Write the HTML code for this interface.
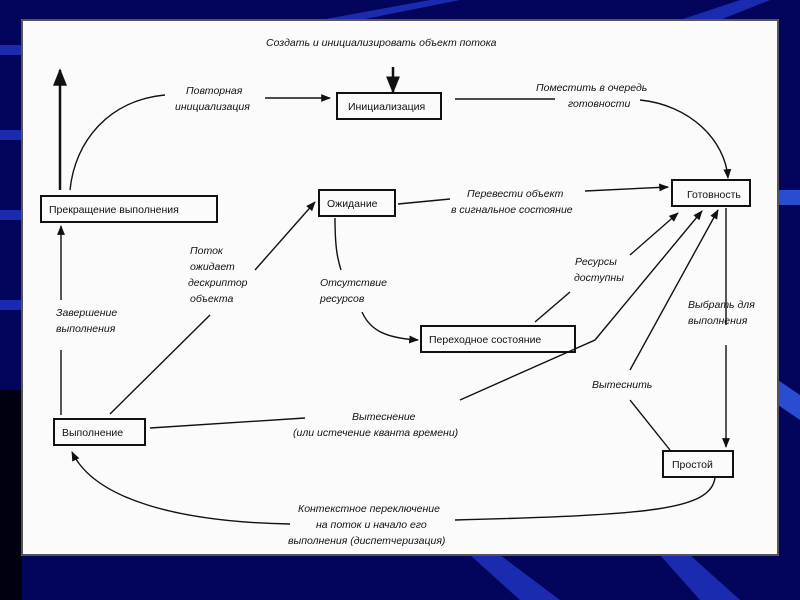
<!DOCTYPE html>
<html><head><meta charset="utf-8"><style>
html,body{margin:0;padding:0;width:800px;height:600px;overflow:hidden;background:#02045a}
svg{display:block}
text{font-family:"Liberation Sans","DejaVu Sans",sans-serif;font-size:10.5px;fill:#111}
.i{font-style:italic}
</style></head><body>
<svg width="800" height="600" viewBox="0 0 800 600" xmlns="http://www.w3.org/2000/svg">
<defs>
<marker id="a" viewBox="0 0 10 10" refX="9" refY="5" markerWidth="7" markerHeight="7" orient="auto-start-reverse"><path d="M0,1 L10,5 L0,9 z" fill="#111"/></marker>
</defs>
<rect width="800" height="600" fill="#03055c"/>
<polygon points="0,45 22,45 22,55 0,55" fill="#1a2bb0"/>
<polygon points="0,130 22,130 22,140 0,140" fill="#1a2bb0"/>
<polygon points="0,210 22,210 22,220 0,220" fill="#1a2bb0"/>
<polygon points="0,300 22,300 22,310 0,310" fill="#1a2bb0"/>
<rect x="0" y="390" width="22" height="210" fill="#000010"/>
<polygon points="320,20 430,0 460,0 360,20" fill="#1a2bb0"/>
<polygon points="680,20 740,0 770,0 720,20" fill="#1a2bb0"/>
<polygon points="470,555 520,600 560,600 500,555" fill="#1a2bb0"/>
<polygon points="660,555 700,600 740,600 690,555" fill="#1a2bb0"/>
<polygon points="778,190 800,190 800,205 778,205" fill="#2a4cd0"/>
<polygon points="778,380 800,395 800,420 778,405" fill="#2a4cd0"/>
<rect x="22" y="20" width="756" height="535" fill="#fbfbfb" stroke="#555" stroke-width="2"/>

<g fill="none" stroke="#111" stroke-width="1.4">
<!-- boxes -->
<rect x="337" y="93" width="104" height="26" stroke-width="2"/>
<rect x="672" y="180" width="78" height="26" stroke-width="2"/>
<rect x="41" y="196" width="176" height="26" stroke-width="2"/>
<rect x="319" y="190" width="76" height="26" stroke-width="2"/>
<rect x="421" y="326" width="154" height="26" stroke-width="2"/>
<rect x="54" y="419" width="91" height="26" stroke-width="2"/>
<rect x="663" y="451" width="70" height="26" stroke-width="2"/>
<!-- arrows -->
<path d="M393,67 L393,92" stroke-width="2.5" marker-end="url(#a)"/>
<path d="M60,190 L60,70" stroke-width="2.5" marker-end="url(#a)"/>
<path d="M70,190 C75,140 110,100 165,95"/>
<path d="M265,98 L330,98" marker-end="url(#a)"/>
<path d="M455,99 L555,99"/>
<path d="M640,100 C690,105 725,140 728,178" marker-end="url(#a)"/>
<path d="M61,415 L61,350"/>
<path d="M61,300 L61,226" marker-end="url(#a)"/>
<path d="M110,414 L210,315"/>
<path d="M255,270 L315,202" marker-end="url(#a)"/>
<path d="M398,204 L450,199"/>
<path d="M585,191 L668,187" marker-end="url(#a)"/>
<path d="M335,218 C335,250 338,260 341,270"/>
<path d="M362,312 C370,330 385,338 418,340" marker-end="url(#a)"/>
<path d="M535,322 L570,292"/>
<path d="M630,255 L678,213" marker-end="url(#a)"/>
<path d="M150,428 L305,418"/>
<path d="M460,400 L595,340 L702,211" marker-end="url(#a)"/>
<path d="M630,370 L718,210" marker-end="url(#a)"/>
<path d="M726,208 L726,325"/>
<path d="M726,345 L726,447" marker-end="url(#a)"/>
<path d="M630,400 L670,450"/>
<path d="M715,478 C710,510 650,515 455,520"/>
<path d="M290,524 C180,522 95,500 72,452" marker-end="url(#a)"/>
</g>

<text x="266" y="46" class="i">Создать и инициализировать объект потока</text>
<text x="348" y="110">Инициализация</text>
<text x="687" y="198">Готовность</text>
<text x="49" y="213">Прекращение выполнения</text>
<text x="327" y="207">Ожидание</text>
<text x="429" y="343">Переходное состояние</text>
<text x="62" y="436">Выполнение</text>
<text x="672" y="468">Простой</text>

<text x="186" y="94" class="i">Повторная</text>
<text x="175" y="110" class="i">инициализация</text>
<text x="536" y="91" class="i">Поместить в очередь</text>
<text x="568" y="107" class="i">готовности</text>
<text x="467" y="197" class="i">Перевести объект</text>
<text x="451" y="213" class="i">в сигнальное состояние</text>
<text x="190" y="254" class="i">Поток</text>
<text x="190" y="270" class="i">ожидает</text>
<text x="188" y="286" class="i">дескриптор</text>
<text x="190" y="302" class="i">объекта</text>
<text x="320" y="286" class="i">Отсутствие</text>
<text x="320" y="302" class="i">ресурсов</text>
<text x="575" y="265" class="i">Ресурсы</text>
<text x="574" y="281" class="i">доступны</text>
<text x="56" y="316" class="i">Завершение</text>
<text x="56" y="332" class="i">выполнения</text>
<text x="688" y="308" class="i">Выбрать для</text>
<text x="688" y="324" class="i">выполнения</text>
<text x="592" y="388" class="i">Вытеснить</text>
<text x="352" y="420" class="i">Вытеснение</text>
<text x="293" y="436" class="i">(или истечение кванта времени)</text>
<text x="298" y="512" class="i">Контекстное переключение</text>
<text x="316" y="528" class="i">на поток и начало его</text>
<text x="288" y="544" class="i">выполнения (диспетчеризация)</text>
</svg>
</body></html>
